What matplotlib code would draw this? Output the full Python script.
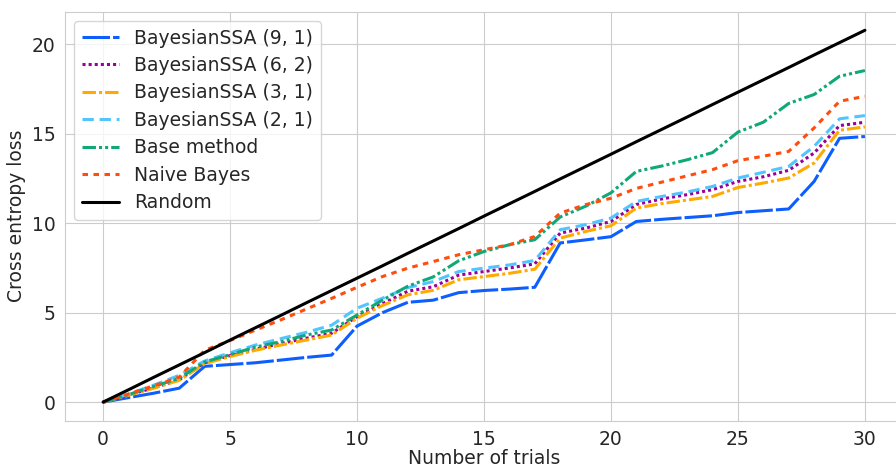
import numpy as np
import matplotlib
matplotlib.use("Agg")
import matplotlib.pyplot as plt
import seaborn as sns

trials = list(range(31))

ssa_9_1 = [0, 0.25, 0.5, 0.78, 2.0, 2.1, 2.2, 2.35, 2.5, 2.63, 4.25, 5.0, 5.58, 5.7, 6.12, 6.24,
           6.32, 6.42, 8.9, 9.07, 9.25, 10.1, 10.22, 10.32, 10.42, 10.6, 10.7, 10.8, 12.34, 14.75, 14.85]
ssa_6_2 = [0, 0.4, 0.8, 1.25, 2.2, 2.6, 2.95, 3.28, 3.57, 3.85, 4.78, 5.5, 6.2, 6.45, 7.1, 7.3,
           7.5, 7.73, 9.45, 9.73, 10.1, 11.05, 11.36, 11.6, 11.88, 12.34, 12.6, 12.96, 13.93, 15.46, 15.65]
ssa_3_1 = [0, 0.38, 0.78, 1.22, 2.15, 2.55, 2.9, 3.19, 3.47, 3.75, 4.69, 5.4, 6.0, 6.25, 6.84, 7.02,
           7.2, 7.43, 9.17, 9.54, 9.86, 10.85, 11.1, 11.3, 11.5, 12.0, 12.25, 12.53, 13.37, 15.2, 15.39]
ssa_2_1 = [0, 0.45, 0.95, 1.5, 2.3, 2.76, 3.19, 3.55, 3.9, 4.3, 5.25, 5.81, 6.4, 6.74, 7.3, 7.49,
           7.67, 7.92, 9.64, 9.92, 10.29, 11.22, 11.5, 11.75, 12.06, 12.53, 12.85, 13.18, 14.3, 15.84, 16.02]
base = [0, 0.42, 0.88, 1.33, 2.25, 2.65, 3.08, 3.38, 3.75, 4.03, 4.87, 5.7, 6.48, 7.0, 7.9, 8.42,
        8.8, 9.08, 10.35, 10.95, 11.7, 12.9, 13.2, 13.55, 13.95, 15.1, 15.65, 16.7, 17.2, 18.22, 18.54]
naive = [0, 0.45, 0.92, 1.4, 2.9, 3.44, 4.03, 4.6, 5.2, 5.8, 6.42, 7.02, 7.49, 7.86, 8.24, 8.52,
         8.8, 9.26, 10.57, 11.04, 11.4, 11.95, 12.3, 12.65, 13.0, 13.5, 13.75, 14.02, 15.33, 16.82, 17.1]
rand = [0, 0.69, 1.39, 2.08, 2.77, 3.47, 4.16, 4.85, 5.55, 6.24, 6.93, 7.62, 8.32, 9.01, 9.70, 10.40,
        11.09, 11.78, 12.48, 13.17, 13.86, 14.56, 15.25, 15.94, 16.64, 17.33, 18.02, 18.71, 19.41, 20.10, 20.79]

series = [
  ("BayesianSSA (9, 1)", ssa_9_1, "#0d5eff", (9, 1)),
  ("BayesianSSA (6, 2)", ssa_6_2, "#990099", (1, 1)),
  ("BayesianSSA (3, 1)", ssa_3_1, "#ffaa00", (4.4, 1, 1, 1)),
  ("BayesianSSA (2, 1)", ssa_2_1, "#52c5ff", (3.7, 1.9)),
  ("Base method", base, "#10a877", (4.4, 1, 1, 1, 1, 1)),
  ("Naive Bayes", naive, "#ff4d0d", (1.8, 1.8)),
  ("Random", rand, "black", None),
]

sns.set_style("whitegrid")
plt.rcParams['font.family'] = ['DejaVu Sans']
fs = 13.5

fig = plt.figure(figsize=(8.96, 4.67), dpi=100)
ax = fig.add_axes([65/896, 1 - 420.7/467, (903 - 65)/896, (420.7 - 11.7)/467])

for label, vals, color, dash in series:
  line, = ax.plot(trials, vals, color=color, lw=2.2, label=label)
  if dash is not None:
    line.set_dashes(dash)

ax.set_xlabel("Number of trials", fontsize=fs, color=".15", labelpad=0)
ax.set_ylabel("Cross entropy loss", fontsize=fs, color=".15")
ax.tick_params(labelsize=fs, colors=".15")
ax.set_xticks([0, 5, 10, 15, 20, 25, 30])
ax.set_yticks([0, 5, 10, 15, 20])
ax.legend(loc="upper left", fontsize=fs, handlelength=2.0, labelspacing=0.45)

fig.savefig("out.png", dpi=100)
